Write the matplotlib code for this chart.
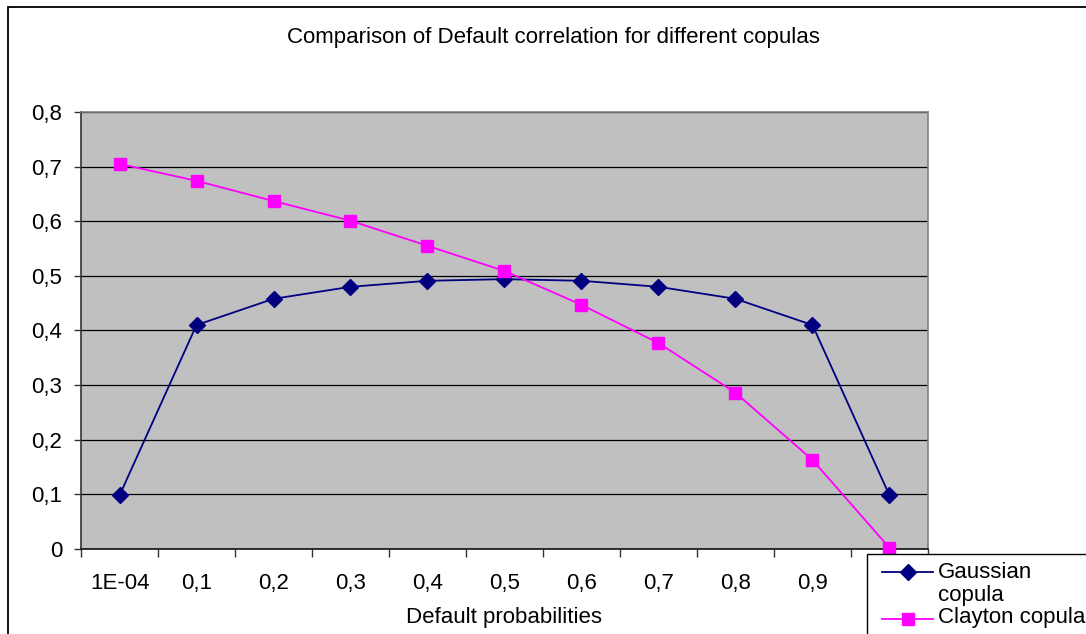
import matplotlib.pyplot as plt
from matplotlib.patches import Rectangle
from matplotlib.lines import Line2D

plt.rcParams['font.family'] = ['Liberation Sans', 'DejaVu Sans']

# Default probabilities (category axis)
categories = ["1E-04", "0,1", "0,2", "0,3", "0,4", "0,5", "0,6", "0,7", "0,8", "0,9", "1"]

# Default correlation per copula
gaussian = [0.098, 0.410, 0.458, 0.480, 0.491, 0.494, 0.491, 0.480, 0.458, 0.410, 0.098]
clayton = [0.705, 0.674, 0.637, 0.601, 0.555, 0.509, 0.447, 0.377, 0.286, 0.163, 0.002]

W, H = 1086, 634
fig = plt.figure(figsize=(W / 100, H / 100), dpi=100)


def fx(px):
    return px / W


def fy(py):
    return 1 - py / H


# outer chart frame, runs off the right and bottom edges
fig.patches.append(Rectangle((fx(8), -0.1), 1.2, fy(7) + 0.1, transform=fig.transFigure,
                             fill=False, edgecolor="black", linewidth=1.3, zorder=0))

left, right, top, bottom = 81, 928, 112, 549
ax = fig.add_axes([fx(left), fy(bottom), (right - left) / W, (bottom - top) / H])
ax.set_facecolor("#C0C0C0")

x = list(range(len(categories)))
ax.plot(x, gaussian, color="#000080", marker="D", markersize=8, linewidth=1.3,
        clip_on=False, zorder=3)
ax.plot(x, clayton, color="#FF00FF", marker="s", markersize=8, linewidth=1.3,
        clip_on=False, zorder=3)

ax.set_xlim(-0.5, len(categories) - 0.5)
ax.set_ylim(0, 0.8)

yt = [i / 10 for i in range(9)]
ax.set_yticks(yt)
ax.set_yticklabels(["0" if v == 0 else f"{v:.1f}".replace(".", ",") for v in yt])
ax.yaxis.grid(True, color="black", linewidth=0.9)
ax.set_axisbelow(True)

# tick marks between categories, labels centred on categories
ax.set_xticks([i - 0.5 for i in range(len(categories) + 1)])
ax.set_xticklabels([])
ax.set_xticks(x, minor=True)
ax.set_xticklabels(categories, minor=True)
ax.tick_params(axis="x", which="major", length=6, width=1, color="#333333", direction="out")
ax.tick_params(axis="x", which="minor", length=0, pad=17, labelsize=16)
ax.tick_params(axis="y", length=5, width=1, color="#333333", pad=8.5, labelsize=16)

for side in ("top", "right"):
    ax.spines[side].set_color("#808080")
    ax.spines[side].set_linewidth(1.2)
ax.spines["left"].set_color("#333333")
ax.spines["bottom"].set_color("#111111")
ax.spines["left"].set_linewidth(1.2)
ax.spines["bottom"].set_linewidth(1.2)

ax.set_xlabel("Default probabilities", fontsize=16, labelpad=10)
fig.text(fx(553), fy(38), "Comparison of Default correlation for different copulas",
         ha="center", va="center", fontsize=16)

# legend box in the lower right corner, cut off by the figure edge
fig.patches.append(Rectangle((fx(867), -0.1), 1.0, fy(554) + 0.1, transform=fig.transFigure,
                             facecolor="white", edgecolor="black", linewidth=1.0, zorder=10))
entries = [("#000080", "D", 572, [("Gaussian", 578), ("copula", 601)]),
           ("#FF00FF", "s", 619, [("Clayton copula", 623)])]
for color, marker, ly, texts in entries:
    fig.add_artist(Line2D([fx(882), fx(933)], [fy(ly), fy(ly)], color=color, linewidth=1.3,
                          transform=fig.transFigure, zorder=11))
    fig.add_artist(Line2D([fx(908)], [fy(ly)], color=color, marker=marker, markersize=8,
                          transform=fig.transFigure, zorder=12))
    for txt, base in texts:
        fig.text(fx(938), fy(base), txt, ha="left", va="baseline", fontsize=16, zorder=12)

fig.savefig("out.png", dpi=100)
